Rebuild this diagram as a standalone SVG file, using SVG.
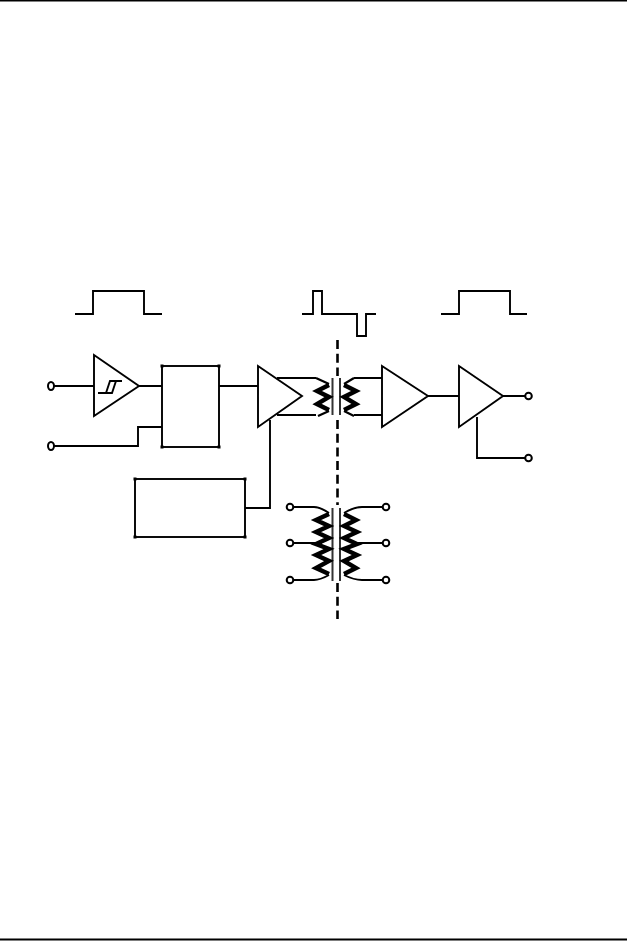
<svg xmlns="http://www.w3.org/2000/svg" width="627" height="942" viewBox="0 0 627 942">
<style>
.l{fill:none;stroke:#000;stroke-width:1.9}
.c{fill:none;stroke:#000;stroke-width:4.4;stroke-linejoin:miter;stroke-miterlimit:6}
.e{fill:none;stroke:#000;stroke-width:2.2}
.k{fill:none;stroke:#333;stroke-width:2}
.t{fill:#fff;stroke:#000;stroke-width:1.9}
.o{fill:#fff;stroke:#000;stroke-width:2}
.d{fill:#000}
</style>
<rect width="627" height="942" fill="#fff"/>
<path class="l" d="M0 0.500H627M0 939.500H627"/>
<g id="connectors">
<path class="l" d="M54 386H94M139 386H162M54 446H138V427H162M219 386H258M245 508H270V420M277 378H316M277 415H316M354 378H382M354 415H382M428 396H459M503 396H525M477 417V458H525"/>
<path d="M337.500 340V376M337.500 420V505M337.500 583V619" fill="none" stroke="#000" stroke-width="2.600" stroke-dasharray="9 4.700"/>
</g>
<g id="wave1"><path class="l" d="M75 314H93V291H144V314H162"/></g>
<g id="wave2"><path class="l" d="M302 314H313V291H322V314H357V336H366V314H376"/></g>
<g id="wave3"><path class="l" d="M441 314H459V291H510V314H527"/></g>
<g id="term-in1"><ellipse class="o" cx="51" cy="386" rx="3" ry="4"/></g>
<g id="term-in2"><ellipse class="o" cx="51" cy="446" rx="3" ry="4"/></g>
<g id="schmitt">
<path class="t" d="M94 355L139 386L94 416Z"/>
<path class="l" d="M98 393H112L116 381H122M106 393L110 381H116"/>
</g>
<g id="block1">
<rect class="t" x="162" y="366" width="57" height="81"/>
<path class="d" d="M160.500 364.500h3v3h-3zM217.500 364.500h3v3h-3zM160.500 445.500h3v3h-3zM217.500 445.500h3v3h-3z"/>
</g>
<g id="block2">
<rect class="t" x="135" y="479" width="110" height="58"/>
<path class="d" d="M133.500 477.500h3v3h-3zM243.500 477.500h3v3h-3zM133.500 535.500h3v3h-3zM243.500 535.500h3v3h-3z"/>
</g>
<g id="driver"><path class="t" d="M258 366L302 396L258 427Z"/></g>
<g id="transformer1">
<path class="k" d="M332.500 378V415M340 378V415"/>
<path class="e" d="M316 378L329 384M318 416L329 411M354 378L344 384M354 416L344 411"/>
<path class="c" d="M329 385L317 391L329 397L317 404L329 410"/>
<path class="c" d="M344 385L356 391L344 397L356 404L344 410"/>
</g>
<g id="receiver"><path class="t" d="M382 366L428 396L382 427Z"/></g>
<g id="buffer"><path class="t" d="M459 366L503 396L459 427Z"/></g>
<g id="term-out1"><circle class="o" cx="528.500" cy="396" r="3.300"/></g>
<g id="term-out2"><circle class="o" cx="528.500" cy="458" r="3.300"/></g>
<g id="transformer2">
<path class="k" d="M332.500 508V581M340 508V581"/>
<path class="l" d="M293 507H314Q320 507 329 513M293 543H322M293 580H314Q320 580 329 575M383 507H362Q354 507 344 513M383 543H352M383 580H362Q354 580 344 575"/>
<path class="c" d="M329 514L316 520L329 526L316 532L329 538L316 544L329 549L316 555L329 561L316 568L329 574"/>
<path class="c" d="M344 514L356 520L344 526L357 532L344 538L357 544L344 549L357 555L344 561L356 568L344 574"/>
<circle class="o" cx="290" cy="507" r="3.300"/>
<circle class="o" cx="290" cy="543" r="3.300"/>
<circle class="o" cx="290" cy="580" r="3.300"/>
<circle class="o" cx="386" cy="507" r="3.300"/>
<circle class="o" cx="386" cy="543" r="3.300"/>
<circle class="o" cx="386" cy="580" r="3.300"/>
</g>
</svg>
